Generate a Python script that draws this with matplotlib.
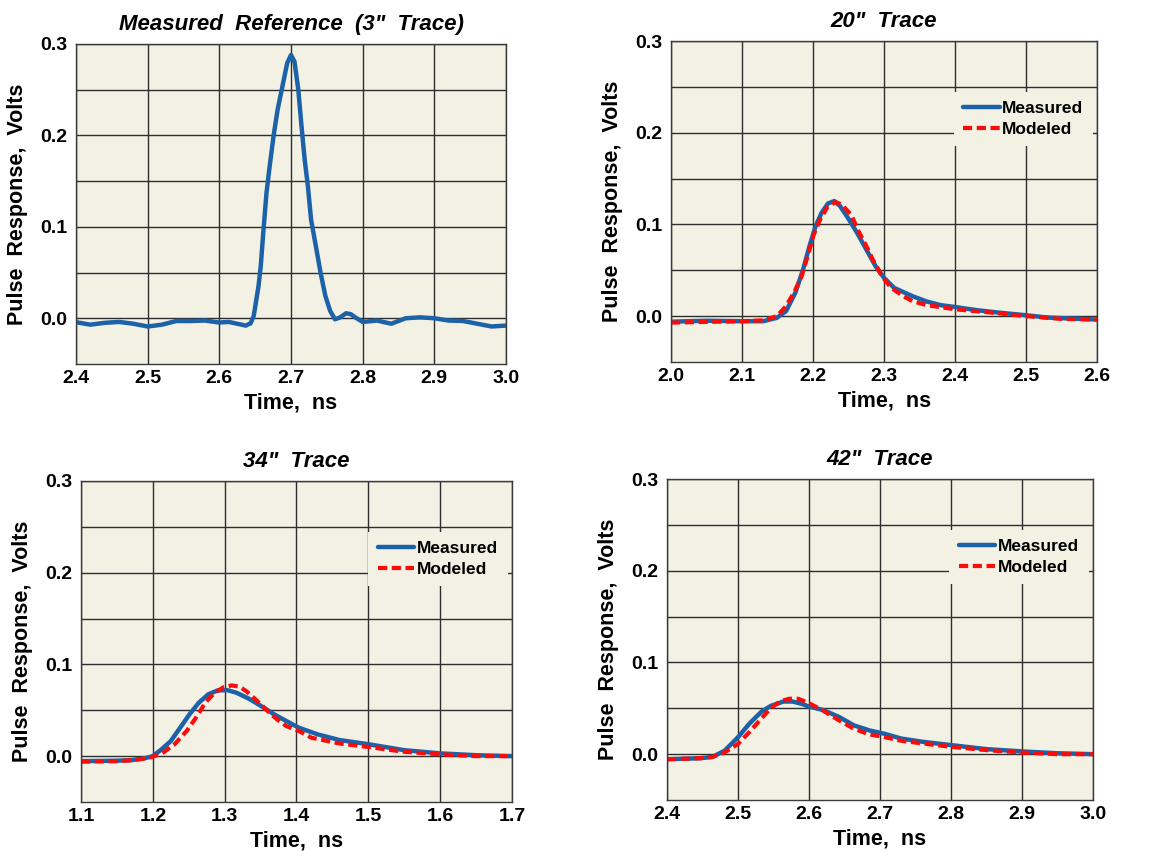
import matplotlib
matplotlib.use("Agg")
import matplotlib.pyplot as plt
from matplotlib.ticker import MultipleLocator, FixedLocator, FormatStrFormatter

# ---- measured reference, 3" trace ----
ref_t = [2.40, 2.42, 2.44, 2.46, 2.48, 2.50, 2.52, 2.54, 2.56, 2.58, 2.60, 2.613, 2.622, 2.637,
         2.6436, 2.648, 2.6547, 2.6578, 2.6613, 2.6658, 2.6702, 2.6756, 2.6813, 2.688, 2.6947,
         2.700, 2.7049, 2.7102, 2.7147, 2.7191, 2.7236, 2.728, 2.7347, 2.7413, 2.748, 2.7547,
         2.7613, 2.768, 2.777, 2.7836, 2.7902, 2.800, 2.820, 2.840, 2.860, 2.880, 2.900, 2.920,
         2.940, 2.960, 2.980, 3.000]
ref_v = [-0.0043, -0.007, -0.005, -0.004, -0.006, -0.009, -0.007, -0.003, -0.003, -0.0025, -0.0047,
         -0.004, -0.0055, -0.008, -0.0055, 0.0025, 0.0353, 0.0571, 0.0935, 0.137, 0.166, 0.199,
         0.228, 0.2535, 0.279, 0.288, 0.2807, 0.250, 0.210, 0.1735, 0.1444, 0.108, 0.0789, 0.0498,
         0.0244, 0.008, -0.0011, 0.0007, 0.0055, 0.0044, 0.0007, -0.004, -0.0025, -0.006, 0.000,
         0.001, 0.000, -0.0025, -0.003, -0.006, -0.009, -0.008]

# ---- 20" trace ----
t20_meas = [2.00, 2.05, 2.10, 2.13, 2.149, 2.162, 2.175, 2.186, 2.195, 2.2035, 2.212, 2.221, 2.230,
            2.238, 2.249, 2.262, 2.275, 2.288, 2.300, 2.314, 2.340, 2.36, 2.38, 2.40, 2.43, 2.46,
            2.50, 2.53, 2.56, 2.60]
v20_meas = [-0.006, -0.005, -0.0055, -0.0055, -0.0018, 0.0055, 0.0255, 0.051, 0.0764, 0.098,
            0.1127, 0.1229, 0.1255, 0.120, 0.1073, 0.0909, 0.0727, 0.0545, 0.0418, 0.0309, 0.0218,
            0.016, 0.012, 0.010, 0.0066, 0.004, 0.001, -0.0015, -0.0025, -0.0037]
t20_model = [2.00, 2.10, 2.13, 2.149, 2.162, 2.173, 2.184, 2.193, 2.201, 2.210, 2.221, 2.232,
             2.240, 2.2535, 2.264, 2.275, 2.284, 2.297, 2.310, 2.327, 2.340, 2.36, 2.40, 2.45,
             2.50, 2.55, 2.60]
v20_model = [-0.007, -0.0055, -0.0045, 0.000, 0.011, 0.0255, 0.0436, 0.0673, 0.089, 0.1055, 0.120,
             0.1244, 0.1218, 0.1109, 0.0927, 0.0764, 0.0618, 0.0436, 0.0309, 0.0218, 0.0164,
             0.012, 0.0075, 0.004, 0.000, -0.003, -0.0037]

# ---- 34" trace ----
t34_meas = [1.10, 1.15, 1.169, 1.186, 1.200, 1.212, 1.225, 1.238, 1.251, 1.264, 1.277, 1.290,
            1.3035, 1.3165, 1.334, 1.351, 1.369, 1.386, 1.4035, 1.43, 1.46, 1.50, 1.55, 1.60,
            1.65, 1.70]
v34_meas = [-0.0055, -0.005, -0.0044, -0.0029, 0.000, 0.0073, 0.0164, 0.0309, 0.0455, 0.0582,
            0.0673, 0.0716, 0.072, 0.0691, 0.0625, 0.0545, 0.0455, 0.0382, 0.0309, 0.0236,
            0.0175, 0.013, 0.0065, 0.003, 0.001, 0.000]
t34_model = [1.10, 1.15, 1.17, 1.195, 1.212, 1.230, 1.247, 1.260, 1.273, 1.286, 1.299, 1.310,
             1.321, 1.330, 1.343, 1.360, 1.373, 1.386, 1.4035, 1.421, 1.46, 1.50, 1.55, 1.60,
             1.65, 1.70]
v34_model = [-0.006, -0.0055, -0.0045, -0.0018, 0.0025, 0.0127, 0.0273, 0.0418, 0.0582, 0.0691,
             0.0753, 0.0771, 0.0756, 0.0709, 0.0618, 0.0491, 0.040, 0.0327, 0.0273, 0.020,
             0.0138, 0.010, 0.0047, 0.002, 0.000, 0.000]

# ---- 42" trace ----
t42_meas = [2.40, 2.447, 2.464, 2.481, 2.500, 2.516, 2.533, 2.546, 2.564, 2.577, 2.590, 2.600,
            2.620, 2.642, 2.663, 2.685, 2.7065, 2.73, 2.76, 2.80, 2.85, 2.90, 2.95, 3.00]
v42_meas = [-0.0055, -0.0044, -0.003, 0.0037, 0.0185, 0.0333, 0.0463, 0.0526, 0.0574, 0.0574,
            0.0548, 0.0519, 0.0481, 0.0407, 0.0315, 0.0259, 0.0222, 0.017, 0.0135, 0.0099,
            0.0055, 0.003, 0.001, 0.000]
t42_model = [2.40, 2.447, 2.464, 2.481, 2.500, 2.516, 2.533, 2.546, 2.559, 2.572, 2.585, 2.600,
             2.620, 2.642, 2.663, 2.685, 2.702, 2.73, 2.76, 2.80, 2.85, 2.90, 2.95, 3.00]
v42_model = [-0.0055, -0.0044, -0.003, 0.0019, 0.0111, 0.0241, 0.0389, 0.050, 0.0574, 0.0604,
             0.0604, 0.0556, 0.0474, 0.037, 0.0278, 0.0215, 0.0193, 0.0146, 0.0117, 0.008,
             0.0044, 0.0018, 0.000, 0.000]

titles = ['Measured  Reference  (3"  Trace)', '20"  Trace', '34"  Trace', '42"  Trace']
xlims = [(2.4, 3.0), (2.0, 2.6), (1.1, 1.7), (2.4, 3.0)]
ytick_vals = [0.0, 0.1, 0.2, 0.3]
ytick_labels = ['0.0', '0.1', '0.2', '0.3']

plt.rcParams['font.family'] = ['Liberation Sans', 'DejaVu Sans']
plt.rcParams['font.weight'] = 'bold'

BLUE = '#1c62a8'
RED = '#ff0a0a'
BG = '#f2f1e4'
GRIDC = '#2e2e2e'

fig = plt.figure(figsize=(11.57, 8.51), dpi=100)
fig.patch.set_color('white')

boxes = [
    [0.0657, 0.5723, 0.3716, 0.3760],
    [0.5800, 0.5746, 0.3682, 0.3772],
    [0.0700, 0.0576, 0.3725, 0.3772],
    [0.5765, 0.0599, 0.3682, 0.3772],
]

series = [
    (ref_t, ref_v, None, None),
    (t20_meas, v20_meas, t20_model, v20_model),
    (t34_meas, v34_meas, t34_model, v34_model),
    (t42_meas, v42_meas, t42_model, v42_model),
]

def setup_axis(ax, title, xlim):
    ax.set_facecolor(BG)
    ax.set_xlim(*xlim)
    ax.set_ylim(-0.05, 0.3)
    ax.xaxis.set_major_locator(MultipleLocator(0.1))
    ax.xaxis.set_major_formatter(FormatStrFormatter('%.1f'))
    ax.yaxis.set_major_locator(FixedLocator(ytick_vals))
    ax.set_yticklabels(ytick_labels)
    ax.yaxis.set_minor_locator(FixedLocator([0.05, 0.15, 0.25]))
    ax.grid(which='both', color=GRIDC, linewidth=1.0)
    ax.set_axisbelow(True)
    ax.tick_params(which='both', length=0, labelsize=14)
    ax.tick_params(axis='y', pad=6)
    ax.tick_params(axis='x', pad=4)
    for s in ax.spines.values():
        s.set_color('#3a3a3a')
        s.set_linewidth(1.0)
    ax.set_title(title, fontsize=16, fontweight='bold', style='italic', pad=10)
    ax.set_xlabel('Time,  ns', fontsize=15.5, fontweight='bold', labelpad=4)
    ax.set_ylabel('Pulse  Response,  Volts', fontsize=15.5, fontweight='bold', labelpad=9)

for i in range(4):
    ax = fig.add_axes(boxes[i])
    setup_axis(ax, titles[i], xlims[i])
    mt, mv, dt, dv = series[i]
    ax.plot(mt, mv, color=BLUE, linewidth=3.2, solid_capstyle='round',
            solid_joinstyle='round', label='Measured')
    if dt is not None:
        ax.plot(dt, dv, color=RED, linewidth=3.0, linestyle=(0, (2.2, 1.1)), label='Modeled')
        leg = ax.legend(loc='upper right', bbox_to_anchor=(0.99, 0.842), borderaxespad=0,
                        fontsize=12.5, handlelength=2.1, handletextpad=0.15, labelspacing=0.3,
                        frameon=True, fancybox=False, borderpad=0.55)
        leg.get_frame().set_facecolor(BG)
        leg.get_frame().set_edgecolor('none')
        leg.get_frame().set_alpha(1.0)
        for txt in leg.get_texts():
            txt.set_fontweight('bold')

fig.savefig('out.png', dpi=100)
